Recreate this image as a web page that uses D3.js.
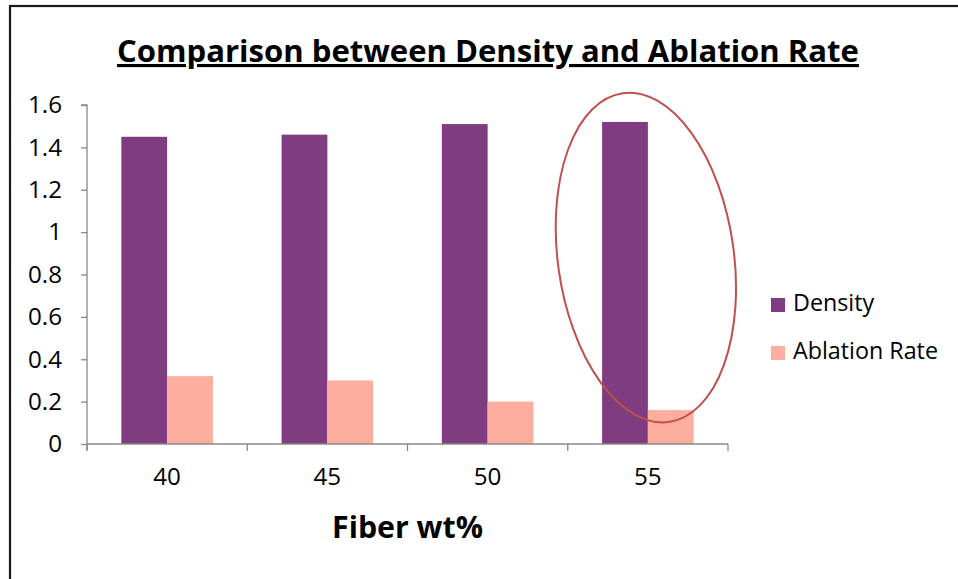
<!DOCTYPE html>
<html>
<head>
<meta charset="utf-8">
<script src="https://cdn.jsdelivr.net/npm/d3@7"></script>
<style>
  html, body { margin: 0; padding: 0; background: #fff; }
  svg { display: block; font-family: "Open Sans", Lato, sans-serif; }
</style>
</head>
<body>
<svg id="chart" width="958" height="579"></svg>
<script>
// Fiber content categories and the two measured series
const categories = ["40", "45", "50", "55"];
const seriesNames = ["Density", "Ablation Rate"];
const density = [1.45, 1.46, 1.51, 1.52];
const ablationRate = [0.32, 0.30, 0.20, 0.16];
const yTicks = [0, 0.2, 0.4, 0.6, 0.8, 1, 1.2, 1.4, 1.6];
const colors = ["#7F3C80", "#FEAE9F"];

const svg = d3.select("#chart");

// scale a text element's font size so that it spans the given width
function fitWidth(sel, width) {
  sel.each(function () {
    const base = parseFloat(this.getAttribute("font-size"));
    const w = this.getComputedTextLength();
    if (w > 0) this.setAttribute("font-size", (base * width / w).toFixed(2));
  });
}

// outer frame (open on the right and bottom)
svg.append("rect")
  .attr("x", 10).attr("y", 6)
  .attr("width", 1000).attr("height", 700)
  .attr("fill", "none").attr("stroke", "#1a1a1a").attr("stroke-width", 2.2);

const plot = { left: 87, right: 728, top: 105, bottom: 444 };

const x = d3.scaleBand().domain(categories).range([plot.left, plot.right]).paddingInner(0).paddingOuter(0);
const inner = d3.scaleBand().domain(seriesNames).range([0, x.bandwidth()]).paddingInner(0).paddingOuter(0.75);
const y = d3.scaleLinear().domain([0, 1.6]).range([plot.bottom, plot.top]);

// bars
const rows = categories.map((c, i) => ({ cat: c, vals: [density[i], ablationRate[i]] }));
const groups = svg.append("g").selectAll("g").data(rows).join("g")
  .attr("transform", d => `translate(${x(d.cat)},0)`);
groups.selectAll("rect").data(d => d.vals.map((v, j) => ({ name: seriesNames[j], v, j })))
  .join("rect")
  .attr("x", d => inner(d.name))
  .attr("width", inner.bandwidth())
  .attr("y", d => y(d.v))
  .attr("height", d => y(0) - y(d.v))
  .attr("fill", d => colors[d.j]);

// y axis
const yAxis = svg.append("g").attr("transform", `translate(${plot.left},0)`)
  .call(d3.axisLeft(y).tickValues(yTicks).tickFormat(d3.format("")).tickSize(6).tickPadding(19));
yAxis.select(".domain").attr("stroke", "#888").attr("stroke-width", 1.3).attr("d", `M-6,${plot.top}H0V${plot.bottom + 6}`);
yAxis.selectAll(".tick line").attr("stroke", "#888").attr("stroke-width", 1.3);
const yLabels = yAxis.selectAll(".tick text").attr("font-size", 20).attr("fill", "#000").attr("font-family", "'Open Sans', sans-serif");
fitWidth(yLabels.filter(d => d === 1.6), 34);
const ySize = yLabels.filter(d => d === 1.6).attr("font-size");
yLabels.attr("font-size", ySize);

// x axis with boundary ticks between categories
const xAxis = svg.append("g").attr("transform", `translate(0,${plot.bottom})`)
  .call(d3.axisBottom(x).tickSize(0).tickPadding(24));
xAxis.select(".domain").attr("stroke", "#888").attr("stroke-width", 1.3).attr("d", `M${plot.left},0H${plot.right}`);
xAxis.selectAll(".tick text").attr("font-size", ySize).attr("fill", "#000").attr("font-family", "'Open Sans', sans-serif");
const bounds = categories.map(c => x(c)).concat([x(categories[categories.length - 1]) + x.bandwidth()]);
xAxis.selectAll("line.sep").data(bounds).join("line").attr("class", "sep")
  .attr("x1", d => d).attr("x2", d => d).attr("y1", 0).attr("y2", 7)
  .attr("stroke", "#888").attr("stroke-width", 1.3);

// title
const title = svg.append("text")
  .attr("x", 488).attr("y", 62)
  .attr("text-anchor", "middle")
  .attr("font-size", 30).attr("font-weight", "bold")
  .attr("text-decoration", "underline")
  .text("Comparison between Density and Ablation Rate");
fitWidth(title, 742);

// x axis title
const xTitle = svg.append("text")
  .attr("x", 407.5).attr("y", 538)
  .attr("text-anchor", "middle")
  .attr("font-size", 30).attr("font-weight", "bold")
  .text("Fiber wt%");
fitWidth(xTitle, 151);

// legend
const legend = svg.append("g").attr("transform", "translate(771,298)");
const li = legend.selectAll("g").data(seriesNames).join("g")
  .attr("transform", (d, i) => `translate(0,${i * 48})`);
li.append("rect").attr("width", 14).attr("height", 14).attr("fill", (d, i) => colors[i]);
const lt = li.append("text").attr("x", 22).attr("y", 13).attr("font-size", 20).text(d => d);
fitWidth(lt.filter(d => d === "Ablation Rate"), 145);
lt.attr("font-size", lt.filter(d => d === "Ablation Rate").attr("font-size"));

// highlight ellipse around the 55 wt% group
const g55 = x("55") + x.bandwidth() / 2;
svg.append("ellipse")
  .attr("transform", `translate(${g55 - 2},${y(0.88)}) rotate(-8)`)
  .attr("rx", 88).attr("ry", 166)
  .attr("fill", "none").attr("stroke", "#C0504D").attr("stroke-width", 2);
</script>
</body>
</html>
